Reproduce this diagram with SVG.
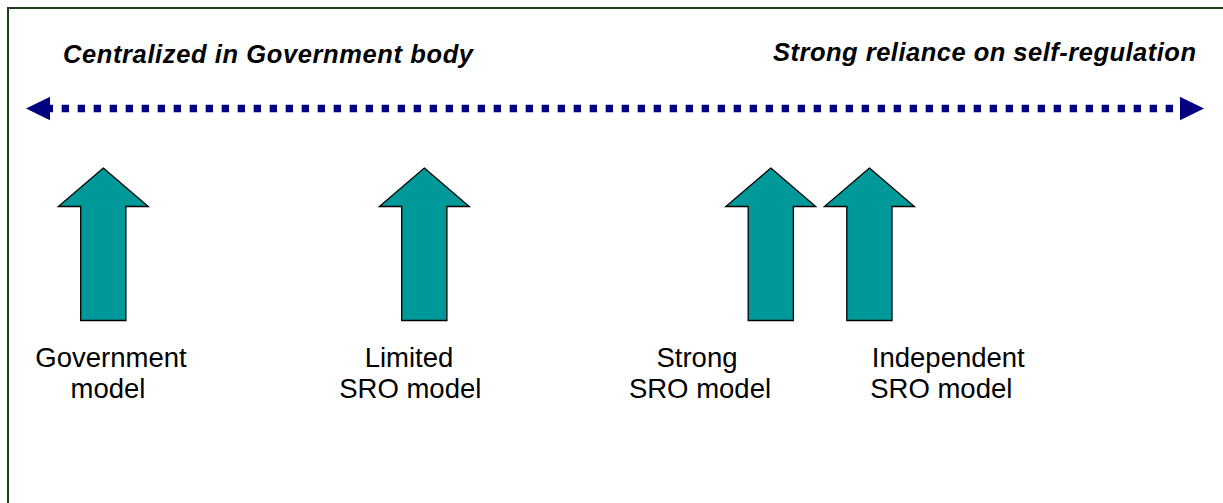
<svg xmlns="http://www.w3.org/2000/svg" xmlns:xlink="http://www.w3.org/1999/xlink" width="1223" height="503" viewBox="0 0 1223 503">
  <style>
    .frame { fill: none; stroke: #1b3f1b; stroke-width: 2; }
    .heading { font-family: "Liberation Sans", Arial, sans-serif; font-size: 25.5px; font-weight: bold; font-style: italic; fill: #000; }
    .label { font-family: "Liberation Sans", Arial, sans-serif; font-size: 27.5px; fill: #000; text-anchor: middle; }
    .up { fill: #009999; stroke: #000; stroke-width: 1.3; stroke-linejoin: miter; }
    .dots { fill: none; stroke: #000080; stroke-width: 7.3; stroke-dasharray: 7.3 8.7; stroke-dashoffset: 4.3; }
    .head { fill: #000080; }
  </style>
  <defs>
    <path id="uparrow" d="M0,0 L45,38.5 L22.6,38.5 L22.6,152.5 L-22.6,152.5 L-22.6,38.5 L-45,38.5 Z"/>
    <marker id="navyHead" markerUnits="userSpaceOnUse" markerWidth="24" markerHeight="24" viewBox="0 0 24 23.4" refX="0" refY="11.7" orient="auto-start-reverse">
      <path class="head" d="M0,0 L24,11.7 L0,23.4 Z"/>
    </marker>
  </defs>

  <rect width="1223" height="503" fill="#ffffff"/>
  <path class="frame" d="M8,503 L8,8 L1223,8"/>

  <g id="heading-left">
    <text class="heading" x="63" y="63" textLength="410" lengthAdjust="spacing">Centralized in Government body</text>
  </g>
  <g id="heading-right">
    <text class="heading" x="773" y="61" textLength="423" lengthAdjust="spacing">Strong reliance on self-regulation</text>
  </g>

  <g id="connectors">
    <line class="dots" x1="50" y1="108.5" x2="1180" y2="108.5" marker-start="url(#navyHead)" marker-end="url(#navyHead)"/>
  </g>

  <g id="node-government">
    <use class="up" xlink:href="#uparrow" href="#uparrow" x="103.3" y="168"/>
    <text class="label" x="111" y="367">Government</text>
    <text class="label" x="108" y="397.5">model</text>
  </g>
  <g id="node-limited-sro">
    <use class="up" xlink:href="#uparrow" href="#uparrow" x="424.3" y="168"/>
    <text class="label" x="409" y="367">Limited</text>
    <text class="label" x="410.3" y="397.5">SRO model</text>
  </g>
  <g id="node-strong-sro">
    <use class="up" xlink:href="#uparrow" href="#uparrow" x="770.8" y="168"/>
    <text class="label" x="697" y="367">Strong</text>
    <text class="label" x="700" y="397.5">SRO model</text>
  </g>
  <g id="node-independent-sro">
    <use class="up" xlink:href="#uparrow" href="#uparrow" x="869.4" y="168"/>
    <text class="label" x="948.3" y="367">Independent</text>
    <text class="label" x="941.3" y="397.5">SRO model</text>
  </g>
</svg>
